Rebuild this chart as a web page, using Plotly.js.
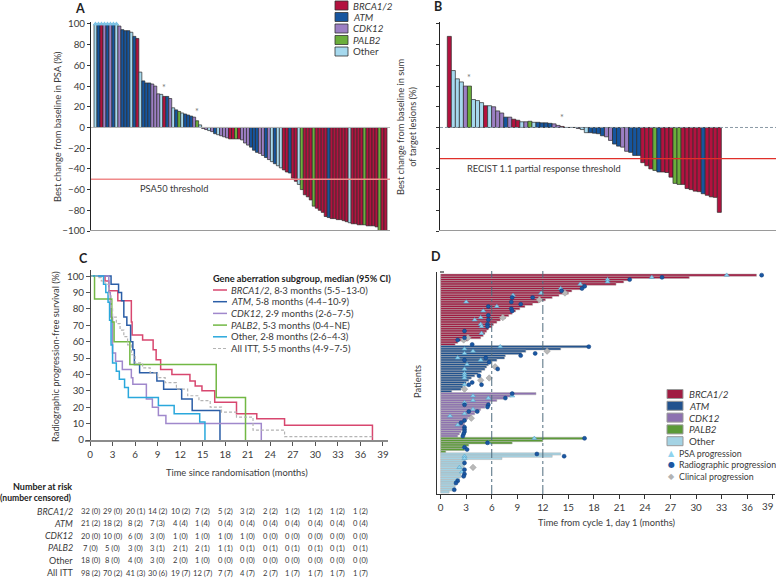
<!DOCTYPE html>
<html><head><meta charset="utf-8">
<script src="https://cdn.plot.ly/plotly-3.0.1.min.js"></script>
<style>body{margin:0;background:#fff}#chart{width:776px;height:580px}</style>
</head><body><div id="chart"></div>
<script>
// ---------------- DATA ----------------
const geneCodes = ['B','A','C','P','O'];
const geneNames = ['BRCA1/2','ATM','CDK12','PALB2','Other'];

// Panel A: best PSA change (%) per patient, waterfall order
const psaGene = ['O','A','B','C','A','C','A','O', 'C','A','A','A','O','A','B', 'O', 'A','A','A','C','C',
 'C','O','B','A','C', 'O','A','P','O','A','A','A','C','P','O',
 'C','C','O','C','A','O','C','C','C','B','B','P','B','C','C','C','A','A','A','C','C','A','C','O','A','O','O','B','B','A',
 'B','B','O','P','B','B','B','P','B','B','B','B','A','B','B','B','B','B','B',
 'O','B','B','B','B','P','B','B','B','B','P','B','B'];
const psaChange = [100,100,100,100,100,100,100,100, 98,94.5,93.5,93.5,92,88,86, 53.5, 45,43,43,42,40,
 32.5,32,30,30,28, 19,17,15.5,14,13,12,11,10,6.5,2.5,
 -1,-2,-3,-4,-6,-7,-8,-9,-10,-11,-11,-11,-11,-12,-15,-17,-19,-22,-24,-25,-27,-29,-31,-33,-35,-37,-39,-41,-43,-44,
 -49,-52,-55,-60,-65,-67,-70,-76,-78,-80,-82,-86,-87,-88,-88,-89,-89,-90,-91,
 -92,-93,-93,-94,-94,-94,-95,-95,-95,-96,-100,-100,-100];
const psaAsterisk = [23, 34];

// Panel B: best change in sum of target lesions (%)
const recistGene = ['B','O','O','O','C','P','O','O','O','B','O','C','C','C','A','C','B','B','O','C','P','O','A','A','A','A','C','C','B',
 'C','O','A',
 'C','O','O','A','A','A','A','C','C','A','A','C','C','A','A','A','B','B','B','P','A','B','B','B','P','P','B','B','B','B','B','A','B','B','B','B'];
const recistChange = [88,55,47,44,40,40,27,26,24,21,21,20,16,14,10,10,8,7,5.5,5.5,6,5,5,4.5,4.5,4,3.5,2,1,
 0,0,0,
 -1,-2,-5,-5,-5.5,-6,-8,-9,-12.5,-16,-18,-19,-23,-24,-27,-27,-34,-37,-40,-41.5,-43,-43,-43.5,-48,-54,-55,-55,-59,-60,-61.5,-62,-64,-65.5,-67,-67.5,-82];
const recistAsterisk = [5, 28];

// Panel C: Kaplan-Meier rPFS (time in months, survival %)
const kmBRCAt = [0,2.0,2.5,3.7,5.5,5.6,7.0,8.4,8.8,9.4,10.9,13.3,14.0,14.9,16.6,19.5,22.2,25.9,37.6];
const kmBRCAs = [100,97,91,85,72,64,61,55,49,43,40,36,33,30,23,16,13,9,0];
const kmATMt = [0,2.8,3.8,4.2,4.5,4.9,5.4,5.7,5.9,6.6,8.9,9.8,12.2,13.6,17.3];
const kmATMs = [100,95,90,85,75,70,60,55,46,41,36,31,25,18,0];
const kmCDKt = [0,2.5,2.7,3.0,3.4,4.3,5.5,5.7,7.5,8.3,9.1,10.1,22.8];
const kmCDKs = [100,90,75,53,48,43,38,34,25,20,15,10,0];
const kmPALBt = [0,0.6,2.9,3.2,5.3,16.8,20.7];
const kmPALBs = [100,86,72,60,46,26,0];
const kmOthert = [0,1.8,2.1,2.4,2.6,2.8,3.0,3.5,3.9,4.6,5.1,9.1,11.2,14.6,15.3];
const kmOthers = [100,95,90,84,73,58,47,42,37,32,26,21,16,11,0];
const kmAllt = [0,1.0,1.5,2.0,2.5,2.8,3.0,3.5,4.0,4.5,5.0,5.5,6.0,7.0,8.0,9.0,10.0,11.5,13.0,14.5,16.0,17.5,19.5,21.7,25.9,37.6];
const kmAlls = [100,99,97,95,88,80,75,71,67,63,58,52,47,44,41,38,35,31,27,24,20,17,14,6,2,2];
const kmLabels = ['BRCA1/2','ATM','CDK12','PALB2','Other','All ITT'];
const kmMedians = ['8·3 months (5·5–13·0)','5·8 months (4·4–10·9)','2·9 months (2·6–7·5)','5·3 months (0·4–NE)','2·8 months (2·6–4·3)','5·5 months (4·9–7·5)'];

// Number at risk (number censored), at 0,3,...,36 months
const riskTimes = [0,3,6,9,12,15,18,21,24,27,30,33,36];
const riskBRCA = [32,29,20,14,10,7,5,3,2,1,1,1,1];   const censBRCA = [0,0,1,2,2,2,2,2,2,2,2,2,2];
const riskATM = [21,18,8,7,4,1,0,0,0,0,0,0,0];        const censATM = [2,2,2,3,4,4,4,4,4,4,4,4,4];
const riskCDK = [20,10,6,3,1,1,1,1,0,0,0,0,0];        const censCDK = [0,0,0,0,0,0,0,0,0,0,0,0,0];
const riskPALB = [7,5,3,3,2,2,1,0,0,0,0,0,0];         const censPALB = [0,0,0,1,1,1,1,1,1,1,1,1,1];
const riskOther = [18,8,4,3,2,1,0,0,0,0,0,0,0];       const censOther = [0,0,0,0,0,0,0,0,0,0,0,0,0];
const riskAll = [98,70,41,30,19,12,7,4,2,1,1,1,1];    const censAll = [2,2,3,6,7,7,7,7,7,7,7,7,7];

// Panel D: swimmer plot — treatment duration (months), events as [row, month]
const durBRCA = [37.1,29.2,22.2,21.5,20.6,17.1,16.6,15.4,15.0,13.9,13.1,12.3,11.5,10.8,9.9,9.3,8.8,8.4,8.0,7.6,7.0,6.6,6.2,6.0,5.6,5.4,5.2,5.0,4.7,3.2,2.0,1.7];
const psaBRCA = [[0,33.6],[1,24.8],[2,19.6],[3,19.6],[4,16.4],[6,14.1],[8,11.8],[9,8.5],[12,3.0],[14,6.6],[16,5.0],[19,4.7],[20,4.0],[22,4.7],[23,4.8],[26,4.8]];
const radBRCA = [[0,37.7],[1,26.0],[2,22.2],[5,16.9],[6,16.6],[7,14.2],[10,10.8],[10,8.4],[12,8.3],[13,9.4],[14,5.6],[15,8.3],[16,8.4],[18,5.6],[20,5.6],[22,5.5],[23,5.5],[25,2.8],[28,2.8],[29,2.0],[31,3.7]];
const clinBRCA = [[8,14.6],[11,11.6],[19,7.3],[28,3.2],[29,2.7]];
const durATM = [17.4,14.1,10.0,9.5,7.6,7.5,6.6,5.8,5.6,5.4,5.2,4.8,4.4,4.0,3.6,3.3,3.0,2.8,2.6,2.4,1.3];
const psaATM = [[0,7.0],[1,2.8],[2,3.8],[3,2.8],[5,2.0],[6,4.7],[8,3.1],[10,2.8],[12,2.8],[13,2.8],[14,2.8],[17,2.8]];
const radATM = [[0,17.4],[3,11.1],[4,9.4],[5,5.3],[6,2.8],[7,5.7],[10,6.7],[13,4.5],[16,3.7],[17,4.8],[17,3.3]];
const clinATM = [[2,12.5],[9,6.4],[14,5.7],[15,4.7],[19,2.8]];
const durCDK = [11.2,8.3,7.4,6.6,5.8,5.6,5.2,4.7,4.3,4.0,3.6,3.2,3.0,2.8,2.8,2.7,2.6,2.4,2.2,2.0];
const psaCDK = [[1,8.4],[1,3.8],[2,5.6],[3,3.8],[4,2.8],[7,3.8],[9,2.8],[10,1.1],[14,2.0]];
const radCDK = [[0,8.4],[2,7.6],[5,2.8],[5,5.6],[6,5.5],[8,3.3],[8,4.3],[12,2.8],[13,2.4],[15,2.8],[16,2.8],[17,2.8],[18,2.7],[19,2.6]];
const clinCDK = [[11,3.6]];
const durPALB = [16.8,12.0,8.4,3.3,3.0,2.8,0.6];
const psaPALB = [[0,11.0],[2,5.6],[4,2.8]];
const radPALB = [[0,16.9],[2,5.5],[4,2.8],[5,3.1]];
const clinPALB = [];
const durOther = [14.1,13.1,7.2,2.9,2.8,2.8,2.7,2.6,2.5,2.4,2.4,2.2,2.0,1.9,1.7,1.7,1.6,1.0];
const psaOther = [[1,2.8],[2,2.8],[6,2.2],[8,2.5],[12,1.9]];
const radOther = [[0,11.3],[1,14.5],[4,2.8],[7,2.8],[9,2.8],[10,2.7],[12,2.0],[13,1.8],[16,1.6]];
const clinOther = [[6,3.8]];
const swimTicks = [0,3,6,9,12,15,18,21,24,27,30,33,36,39];

// ---------------- STYLE / LAYOUT ----------------
const W = 776, H = 580;
const P = x => x / W, Q = y => 1 - y / H;
const FONT = 'Lato, "Open Sans", sans-serif';
const TXT = '#3a3a3a';
const barCol = {B:'#b3123f', A:'#16559e', C:'#9c7fc3', P:'#6bae3b', O:'#a6d9ee'};
const kmCol = ['#d8476f','#2b5ea7','#a088cc','#72b844','#2aa8dc','#b4b4b4'];
const swimCol = {B:'#a01c42', A:'#21528e', C:'#8d71b0', P:'#5b9a37', O:'#a4d3e4'};
const FS = 9.3;

const traces = [];
const shapes = [];
const annotations = [];

// Panel A
const idxA = psaChange.map((_, i) => i);
traces.push({type:'bar', x: idxA, y: psaChange, width: 1, xaxis:'x', yaxis:'y',
  marker:{color: psaGene.map(g => barCol[g]), line:{color:'#2b2b2b', width:0.7}}, hoverinfo:'skip'});
const capIdx = idxA.filter(i => psaChange[i] >= 100);
traces.push({type:'scatter', mode:'markers', x: capIdx, y: capIdx.map(i => psaChange[i]), xaxis:'x', yaxis:'y', cliponaxis:false,
  marker:{symbol:'triangle-up', size:5, color:'#7cc3e6'}, hoverinfo:'skip'});
psaAsterisk.forEach(i => annotations.push({xref:'x', yref:'y', x:i, y:psaChange[i], text:'*', showarrow:false, yshift:9, font:{size:9, color:'#777', family:FONT}}));

// Panel B
const idxB = recistChange.map((_, i) => i);
traces.push({type:'bar', x: idxB, y: recistChange, width: 1, xaxis:'x2', yaxis:'y2',
  marker:{color: recistGene.map(g => barCol[g]), line:{color:'#2b2b2b', width:0.7}}, hoverinfo:'skip'});
recistAsterisk.forEach(i => annotations.push({xref:'x2', yref:'y2', x:i, y:recistChange[i], text:'*', showarrow:false, yshift:9, font:{size:9, color:'#777', family:FONT}}));

// Panel C
const kmT = [kmBRCAt, kmATMt, kmCDKt, kmPALBt, kmOthert, kmAllt];
const kmS = [kmBRCAs, kmATMs, kmCDKs, kmPALBs, kmOthers, kmAlls];
kmT.forEach((t, k) => traces.push({type:'scatter', mode:'lines', x: t, y: kmS[k], xaxis:'x3', yaxis:'y3', cliponaxis:false,
  line:{shape:'hv', color: kmCol[k], width: k === 5 ? 1.2 : 1.5, dash: k === 5 ? '3px,2px' : 'solid'}, hoverinfo:'skip'}));

// Panel D
const durs = [durBRCA, durATM, durCDK, durPALB, durOther];
const psas = [psaBRCA, psaATM, psaCDK, psaPALB, psaOther];
const rads = [radBRCA, radATM, radCDK, radPALB, radOther];
const clins = [clinBRCA, clinATM, clinCDK, clinPALB, clinOther];
const nRows = durs.reduce((s, d) => s + d.length, 0);
let off = 0;
const offs = [];
durs.forEach((d, g) => {
  offs.push(off);
  traces.push({type:'bar', orientation:'h', x: d, y: d.map((_, i) => nRows - 1 - (off + i)), width: 1, xaxis:'x4', yaxis:'y4',
    marker:{color: swimCol[geneCodes[g]], line:{color:'#b0b0b0', width:0.5}}, hoverinfo:'skip'});
  off += d.length;
});
function evTrace(arrs, sym, col, size, lineCol) {
  const xs = [], ys = [];
  arrs.forEach((a, g) => a.forEach(([r, t]) => { xs.push(t); ys.push(nRows - 1 - (offs[g] + r)); }));
  return {type:'scatter', mode:'markers', x: xs, y: ys, xaxis:'x4', yaxis:'y4', cliponaxis:false,
    marker:{symbol: sym, size: size, color: col, line:{color: lineCol, width: 0.5}}, hoverinfo:'skip'};
}
traces.push(evTrace(clins, 'diamond', '#b8b8b8', 5, '#999'));
traces.push(evTrace(psas, 'triangle-up', '#8fd3ef', 4.5, '#4d9cc4'));
traces.push(evTrace(rads, 'circle', '#1a57a3', 4, '#0f3f7a'));

// ---- shapes ----
shapes.push({type:'line', xref:'paper', yref:'y', x0:P(91), x1:P(390), y0:0, y1:0, line:{color:'#b5b5b5', width:1}});
shapes.push({type:'line', xref:'paper', yref:'y', x0:P(91), x1:P(390), y0:-50, y1:-50, line:{color:'#f08a8a', width:1.5}});
shapes.push({type:'line', xref:'paper', yref:'y', x0:P(90), x1:P(390), y0:-100, y1:-100, line:{color:'#9a9a9a', width:2}});
shapes.push({type:'line', xref:'paper', yref:'y2', x0:P(440), x1:P(776), y0:0, y1:0, line:{color:'#8a9aa5', width:1, dash:'3px,2px'}});
shapes.push({type:'line', xref:'paper', yref:'y2', x0:P(440), x1:P(776), y0:-30, y1:-30, line:{color:'#e0302a', width:1.3}});
shapes.push({type:'line', xref:'paper', yref:'y2', x0:P(439), x1:P(776), y0:-100, y1:-100, line:{color:'#9a9a9a', width:2}});
[6, 12].forEach(v => shapes.push({type:'line', xref:'x4', yref:'paper', x0:v, x1:v, y0:Q(494), y1:Q(271), line:{color:'#4f6c7e', width:1, dash:'dashdot'}}));
shapes.push({type:'line', xref:'paper', yref:'paper', x0:P(440), x1:P(444), y0:Q(272), y1:Q(272), line:{color:'#333', width:1.2}});

// ---- legends ----
geneCodes.forEach((g, i) => {
  const yc = 5.5 + i * 11.5;
  shapes.push({type:'rect', xref:'paper', yref:'paper', x0:P(335), x1:P(348), y0:Q(yc + 4.5), y1:Q(yc - 4.5), fillcolor: barCol[g], line:{color:'#333', width:0.8}});
  annotations.push({xref:'paper', yref:'paper', x:P(351), y:Q(yc), xanchor:'left', yanchor:'middle', showarrow:false,
    text: g === 'O' ? geneNames[i] : '<i>' + geneNames[i] + '</i>', font:{size:9.8, color:TXT, family:FONT}});
});
annotations.push({xref:'paper', yref:'paper', x:P(211), y:Q(278), xanchor:'left', yanchor:'middle', showarrow:false,
  text:'<b>Gene aberration subgroup, median (95% CI)</b>', font:{size:9.2, color:'#222', family:FONT}});
kmLabels.forEach((lab, k) => {
  const yc = 290 + k * 11.7;
  shapes.push({type:'line', xref:'paper', yref:'paper', x0:P(213), x1:P(227), y0:Q(yc), y1:Q(yc),
    line:{color: kmCol[k], width: k === 5 ? 1.2 : 1.5, dash: k === 5 ? '3px,2px' : 'solid'}});
  const nm = k < 4 ? '<i>' + lab + '</i>' : lab;
  annotations.push({xref:'paper', yref:'paper', x:P(229), y:Q(yc), xanchor:'left', yanchor:'middle', showarrow:false,
    text: nm + ', ' + kmMedians[k], font:{size:9.6, color:TXT, family:FONT}});
});
geneCodes.forEach((g, i) => {
  const yc = 394 + i * 11.8;
  shapes.push({type:'rect', xref:'paper', yref:'paper', x0:P(667), x1:P(683), y0:Q(yc + 4.5), y1:Q(yc - 4.5), fillcolor: swimCol[g], line:{color:'#999', width:1}});
  annotations.push({xref:'paper', yref:'paper', x:P(687), y:Q(yc), xanchor:'left', yanchor:'middle', showarrow:false,
    text: (g === 'O' ? geneNames[i] : '<i>' + geneNames[i] + '</i>'), font:{size:9.8, color:TXT, family:FONT}});
});
const evLeg = [['▲','#8fd3ef','PSA progression'],['●','#1a57a3','Radiographic progression'],['◆','#b3b3b3','Clinical progression']];
evLeg.forEach((e, i) => {
  const yc = 394 + (5 + i) * 11.8;
  annotations.push({xref:'paper', yref:'paper', x:P(671), y:Q(yc), xanchor:'center', yanchor:'middle', showarrow:false,
    text: e[0], font:{size:8, color:e[1], family:'DejaVu Sans'}});
  annotations.push({xref:'paper', yref:'paper', x:P(677), y:Q(yc), xanchor:'left', yanchor:'middle', showarrow:false,
    text: e[2], font:{size:8.8, color:TXT, family:FONT}});
});

// ---- Number at risk table ----
annotations.push({xref:'paper', yref:'paper', x:P(74), y:Q(486), xanchor:'right', yanchor:'middle', showarrow:false,
  text:'<b>Number at risk</b>', font:{size:9, color:'#222', family:FONT}});
annotations.push({xref:'paper', yref:'paper', x:P(74), y:Q(498), xanchor:'right', yanchor:'middle', showarrow:false,
  text:'<b>(number censored)</b>', font:{size:8.6, color:'#222', family:FONT}});
const riskRows = [riskBRCA, riskATM, riskCDK, riskPALB, riskOther, riskAll];
const censRows = [censBRCA, censATM, censCDK, censPALB, censOther, censAll];
kmLabels.forEach((lab, r) => {
  const yc = 511 + r * 12.3;
  annotations.push({xref:'paper', yref:'paper', x:P(75), y:Q(yc), xanchor:'right', yanchor:'middle', showarrow:false,
    text: r < 4 ? '<i>' + lab + '</i>' : lab, font:{size:9, color:TXT, family:FONT}});
  riskTimes.forEach((t, c) => annotations.push({xref:'x3', yref:'paper', x:t, y:Q(yc), xanchor:'center', yanchor:'middle', showarrow:false,
    text: riskRows[r][c] + ' (' + censRows[r][c] + ')', font:{size:7.6, color:TXT, family:FONT}}));
});

// ---- titles & panel letters ----
const tf = {size:FS, color:TXT, family:FONT};
annotations.push({xref:'paper', yref:'paper', x:P(57), y:Q(127), textangle:-90, showarrow:false, xanchor:'center', yanchor:'middle', text:'Best change from baseline in PSA (%)', font:tf});
annotations.push({xref:'paper', yref:'paper', x:P(406), y:Q(127), textangle:-90, showarrow:false, xanchor:'center', yanchor:'middle', text:'Best change from baseline in sum<br>of target lesions (%)', font:tf});
annotations.push({xref:'paper', yref:'paper', x:P(55), y:Q(357), textangle:-90, showarrow:false, xanchor:'center', yanchor:'middle', text:'Radiographic progression-free survival (%)', font:tf});
annotations.push({xref:'paper', yref:'paper', x:P(237), y:Q(472), showarrow:false, xanchor:'center', yanchor:'middle', text:'Time since randomisation (months)', font:tf});
annotations.push({xref:'paper', yref:'paper', x:P(417), y:Q(382), textangle:-90, showarrow:false, xanchor:'center', yanchor:'middle', text:'Patients', font:tf});
annotations.push({xref:'paper', yref:'paper', x:P(607), y:Q(522), showarrow:false, xanchor:'center', yanchor:'middle', text:'Time from cycle 1, day 1 (months)', font:tf});
annotations.push({xref:'paper', yref:'paper', x:P(138), y:Q(188), showarrow:false, xanchor:'left', yanchor:'middle', text:'PSA50 threshold', font:tf});
annotations.push({xref:'paper', yref:'paper', x:P(465), y:Q(168), showarrow:false, xanchor:'left', yanchor:'middle', text:'RECIST 1.1 partial response threshold', font:tf});
[['A',80,8],['B',438,6],['C',83,258],['D',436,257]].forEach(([l, x, y]) => annotations.push({xref:'paper', yref:'paper', x:P(x), y:Q(y), showarrow:false, xanchor:'center', yanchor:'middle', text:'<b>' + l + '</b>', font:{size:12.5, color:'#222', family:FONT}}));
// last tick label of panel D sits at the page edge
const lastTick = swimTicks[swimTicks.length - 1];
annotations.push({xref:'paper', yref:'paper', x:1, y:Q(505.5), xanchor:'right', yanchor:'middle', showarrow:false, text:String(lastTick), font:{size:9.8, color:TXT, family:FONT}});

// ---- axes ----
const nA = psaChange.length;
const pxA = (387 - 94) / nA, pxB = 4.03;
const aMin = -0.5 - (94 - 91) / pxA, aMax = aMin + (390 - 91) / pxA;
const bMin = -0.5 - (447.3 - 440) / pxB, bMax = bMin + (776 - 440) / pxB;
const hidden = {showgrid:false, zeroline:false, showline:false, ticks:'', showticklabels:false, fixedrange:true};
const yTicks = [-100,-80,-60,-40,-20,0,20,40,60,80,100];
const tickF = {size:9.8, color:TXT, family:FONT};
const layout = {
  width: W, height: H, margin:{l:0, r:0, t:0, b:0}, paper_bgcolor:'#fff', plot_bgcolor:'rgba(0,0,0,0)',
  showlegend:false, bargap:0, barmode:'overlay', font:{family:FONT, color:TXT},
  xaxis: Object.assign({}, hidden, {domain:[P(91), P(390)], range:[aMin, aMax], anchor:'y'}),
  yaxis: {domain:[Q(231), Q(22)], range:[-100, 101.9], anchor:'x', showgrid:false, zeroline:false, showline:true, linecolor:'#222', linewidth:1,
    ticks:'outside', ticklen:3, tickcolor:'#333', tickvals:yTicks, tickfont:tickF, fixedrange:true},
  xaxis2: Object.assign({}, hidden, {domain:[P(440), 1], range:[bMin, bMax], anchor:'y2'}),
  yaxis2: {domain:[Q(231), Q(22)], range:[-100, 101.9], anchor:'x2', showgrid:false, zeroline:false, showline:true, linecolor:'#222', linewidth:1,
    ticks:'outside', ticklen:3, tickcolor:'#333', tickvals:yTicks, showticklabels:false, fixedrange:true},
  xaxis3: {domain:[P(85), P(388)], range:[-0.67, 39.67], anchor:'y3', showgrid:false, zeroline:false, showline:true, linecolor:'#8c8c8c', linewidth:2,
    ticks:'outside', ticklen:4, tickcolor:'#555', tickvals:riskTimes.concat([39]), tickfont:tickF, fixedrange:true},
  yaxis3: {domain:[Q(440), Q(270)], range:[0, 103.7], anchor:'free', position:P(90), showgrid:false, zeroline:false, showline:true, linecolor:'#444', linewidth:1,
    ticks:'outside', ticklen:4, tickcolor:'#555', tickvals:[0,10,20,30,40,50,60,70,80,90,100], tickfont:tickF, fixedrange:true},
  xaxis4: {domain:[P(437), P(775)], range:[-0.43, 39.27], anchor:'y4', showgrid:false, zeroline:false, showline:true, linecolor:'#333', linewidth:1.2,
    ticks:'outside', ticklen:4, tickcolor:'#333', tickvals:swimTicks, ticktext:swimTicks.map(t => t === lastTick ? '' : String(t)), tickfont:tickF, fixedrange:true},
  yaxis4: {domain:[Q(494), Q(272)], range:[-0.9, 98.4], anchor:'x4', showgrid:false, zeroline:false, showline:true, linecolor:'#333', linewidth:1.2,
    ticks:'', showticklabels:false, fixedrange:true},
  shapes: shapes, annotations: annotations
};
Plotly.newPlot('chart', traces, layout, {staticPlot:true, displayModeBar:false});
</script></body></html>
